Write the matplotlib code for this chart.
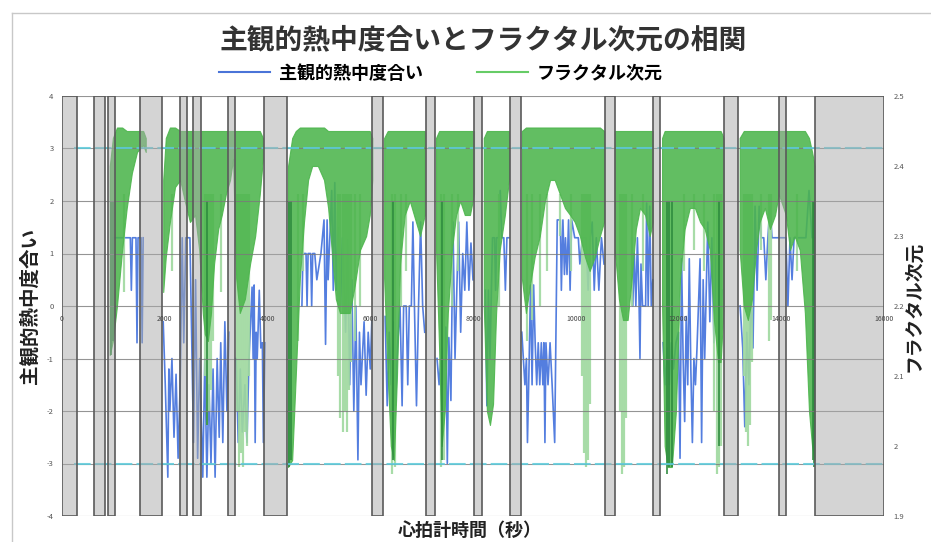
import numpy as np
import matplotlib
matplotlib.use('Agg')
import matplotlib.pyplot as plt
from matplotlib.lines import Line2D

plt.rcParams['font.family'] = ['Noto Sans CJK JP', 'DejaVu Sans']

title = '主観的熱中度合いとフラクタル次元の相関'
label_blue = '主観的熱中度合い'
label_green = 'フラクタル次元'
xlabel = '心拍計時間（秒）'

x_ticks = [0, 2000, 4000, 6000, 8000, 10000, 12000, 14000, 16000]
left_ticks = [-4, -3, -2, -1, 0, 1, 2, 3, 4]
right_ticks = [1.9, 2.0, 2.1, 2.2, 2.3, 2.4, 2.5]
right_labels = ['1.9', '2', '2.1', '2.2', '2.3', '2.4', '2.5']
thresholds = [3, -3]

# excluded (gray) intervals, seconds
band_start = [0, 620, 900, 1520, 2300, 2550, 3230, 3930, 6030, 7080, 8020, 8720, 10570, 11500, 12890, 13960, 14660]
band_end = [290, 840, 1030, 1950, 2430, 2700, 3370, 4380, 6250, 7260, 8170, 8930, 10760, 11640, 13160, 14090, 16000]

# fractal dimension envelope (upper / lower) per recorded segment
green_t = [
    [930, 990, 1070, 1170, 1260, 1360, 1460, 1580, 1630],
    [1970, 2020, 2100, 2200, 2300, 2390, 2490, 2590, 2670, 2740, 2780, 2840, 2900, 2960, 3040, 3110, 3190, 3270, 3330, 3390, 3460, 3560, 3660, 3760, 3850, 3910],
    [4400, 4480, 4550, 4630, 4710, 4790, 4870, 4980, 5100, 5180, 5250, 5330, 5410, 5510, 5600, 5700, 5800, 5920, 5990, 6040],
    [6270, 6340, 6400, 6460, 6520, 6580, 6670, 6770, 6890, 6970, 7060],
    [7280, 7340, 7390, 7450, 7510, 7590, 7670, 7750, 7840, 7940, 8020],
    [8210, 8270, 8330, 8390, 8450, 8520, 8620, 8700],
    [8950, 9030, 9110, 9200, 9300, 9400, 9500, 9590, 9690, 9790, 9890, 9980, 10080, 10180, 10270, 10370, 10470, 10550],
    [10760, 10840, 10920, 11010, 11090, 11170, 11250, 11350, 11440, 11500],
    [11680, 11730, 11790, 11870, 11950, 12030, 12120, 12220, 12320, 12420, 12510, 12610, 12690, 12770, 12820, 12880],
    [13190, 13270, 13350, 13430, 13510, 13580, 13680, 13780, 13880, 13950, 14090, 14170, 14260, 14360, 14460, 14540, 14600, 14650],
]
green_hi = [
    [2.40, 2.44, 2.455, 2.455, 2.45, 2.45, 2.45, 2.45, 2.44],
    [2.38, 2.44, 2.455, 2.455, 2.45, 2.45, 2.45, 2.45, 2.45, 2.45, 2.45, 2.45, 2.45, 2.45, 2.45, 2.45, 2.45, 2.45, 2.45, 2.45, 2.45, 2.45, 2.45, 2.45, 2.45, 2.44],
    [2.40, 2.44, 2.45, 2.455, 2.455, 2.455, 2.455, 2.455, 2.455, 2.45, 2.45, 2.45, 2.45, 2.45, 2.45, 2.45, 2.45, 2.45, 2.45, 2.44],
    [2.44, 2.45, 2.45, 2.45, 2.45, 2.45, 2.45, 2.45, 2.45, 2.45, 2.45],
    [2.44, 2.45, 2.45, 2.45, 2.45, 2.45, 2.45, 2.45, 2.45, 2.45, 2.45],
    [2.44, 2.45, 2.45, 2.45, 2.45, 2.45, 2.45, 2.45],
    [2.45, 2.455, 2.455, 2.455, 2.455, 2.455, 2.455, 2.455, 2.455, 2.455, 2.455, 2.455, 2.455, 2.455, 2.455, 2.455, 2.455, 2.45],
    [2.45, 2.45, 2.45, 2.45, 2.45, 2.45, 2.45, 2.45, 2.45, 2.45],
    [2.44, 2.45, 2.45, 2.45, 2.45, 2.45, 2.45, 2.45, 2.45, 2.45, 2.45, 2.45, 2.45, 2.45, 2.45, 2.44],
    [2.44, 2.45, 2.45, 2.45, 2.45, 2.45, 2.45, 2.45, 2.45, 2.45, 2.45, 2.45, 2.45, 2.45, 2.45, 2.44, 2.42, 2.40],
]
green_lo = [
    [2.13, 2.15, 2.20, 2.28, 2.34, 2.39, 2.42, 2.43, 2.42],
    [2.22, 2.27, 2.32, 2.37, 2.38, 2.35, 2.32, 2.33, 2.28, 2.19, 2.16, 2.15, 2.19, 2.26, 2.31, 2.33, 2.36, 2.38, 2.41, 2.24, 2.19, 2.21, 2.26, 2.30, 2.36, 2.41],
    [1.97, 1.98, 2.10, 2.24, 2.32, 2.38, 2.40, 2.40, 2.38, 2.34, 2.28, 2.21, 2.19, 2.19, 2.19, 2.23, 2.28, 2.30, 2.33, 2.38],
    [2.24, 2.10, 2.00, 1.98, 2.10, 2.26, 2.33, 2.35, 2.32, 2.30, 2.33],
    [2.28, 2.14, 2.00, 2.05, 2.19, 2.28, 2.33, 2.35, 2.33, 2.33, 2.36],
    [2.20, 2.05, 2.03, 2.06, 2.19, 2.28, 2.33, 2.38],
    [2.24, 2.19, 2.23, 2.27, 2.30, 2.35, 2.38, 2.38, 2.36, 2.34, 2.33, 2.32, 2.30, 2.27, 2.25, 2.27, 2.30, 2.32],
    [2.28, 2.21, 2.18, 2.18, 2.24, 2.31, 2.34, 2.33, 2.30, 2.32],
    [2.20, 2.00, 1.97, 1.97, 2.05, 2.24, 2.31, 2.34, 2.34, 2.32, 2.31, 2.28, 2.18, 2.12, 2.12, 2.20],
    [2.28, 2.20, 2.18, 2.21, 2.28, 2.32, 2.34, 2.31, 2.33, 2.36, 2.33, 2.28, 2.30, 2.28, 2.19, 2.05, 2.00, 1.98],
]

# light-green dips of the fractal dimension
light_t = [2780, 2820, 2860, 2900, 2940, 3400, 3440, 3480, 3520, 3560, 3600, 3640,
           5380, 5420, 5460, 5500, 5540, 5580, 5620, 6420, 6480, 7380, 7430, 9060, 9150,
           10120, 10160, 10200, 10240, 10280, 10860, 10900, 10940, 10980,
           12700, 12740, 12780, 12820, 13270, 13310, 13350, 13390, 13430, 13760, 13800,
           4600, 4700, 5700, 5800, 6600, 6700, 7600, 7700, 8500, 9300, 9450, 9700, 9900,
           11100, 11300, 12100, 12300, 12500, 13600, 14300, 2150, 3100, 1200]
light_lo = [2.10, 2.03, 2.05, 2.08, 2.15, 2.05, 1.97, 1.99, 1.97, 2.02, 2.00, 2.10,
            2.10, 2.04, 2.02, 2.05, 2.02, 2.08, 2.12, 1.96, 1.97, 1.97, 1.98, 2.15, 2.18,
            2.10, 1.99, 1.97, 1.98, 2.06, 2.05, 1.96, 1.97, 2.04,
            2.05, 1.96, 1.97, 2.00, 2.10, 2.02, 2.00, 2.03, 2.12, 2.15, 2.18,
            2.15, 2.25, 2.15, 2.20, 2.20, 2.25, 2.20, 2.25, 2.20, 2.20, 2.25, 2.30, 2.25,
            2.20, 2.25, 2.25, 2.28, 2.25, 2.28, 2.25, 2.25, 2.22, 2.22]
# dark-green deep dips
dark_t = [960, 990, 2820, 4410, 4450, 6440, 7400, 11770, 11820, 11870, 12790, 14620, 14640]
dark_lo = [2.13, 2.15, 2.03, 1.97, 1.98, 1.98, 1.98, 1.96, 1.97, 1.97, 2.00, 1.98, 1.97]

# subjective immersion (left axis)
blue_t = [
    [970, 990, 1170, 1330, 1350, 1370, 1440, 1460, 1480, 1540, 1560, 1580],
    [1970, 2010, 2060, 2080, 2100, 2140, 2180, 2220, 2260, 2300, 2340, 2370, 2410, 2490, 2560, 2600, 2640, 2680, 2740, 2780, 2820, 2860, 2900, 2940, 2980, 3020, 3060, 3090, 3130, 3170, 3210, 3250],
    [3390, 3430, 3470, 3510, 3560, 3600, 3640, 3700, 3720, 3740, 3760, 3780, 3800, 3840, 3870, 3900, 3920, 3950],
    [4670, 4690, 4750, 4770, 4790, 4840, 4860, 4880, 4920, 4960, 5040, 5100, 5130, 5160, 5180, 5250, 5280, 5310, 5340, 5380, 5420, 5460, 5520, 5560, 5600, 5640, 5680, 5720, 5760, 5790, 5820, 5880, 5920, 5960, 6000, 6030],
    [6290, 6330, 6370, 6410, 6450, 6490, 6530, 6580, 6620, 6650, 6700, 6730, 6760, 6800, 6830, 6860, 6900, 6940, 6980, 7020, 7060],
    [7300, 7340, 7390, 7430, 7470, 7500, 7530, 7570, 7610, 7650, 7690, 7720, 7760, 7800, 7840, 7880, 7920, 7960, 8000],
    [8240, 8270, 8300, 8330, 8380, 8420, 8440, 8460, 8500, 8530, 8560, 8600, 8630, 8660, 8700],
    [8950, 8980, 9010, 9040, 9060, 9090, 9120, 9150, 9180, 9210, 9240, 9270, 9300, 9330, 9360, 9380, 9400, 9420, 9460, 9500, 9540, 9590, 9640, 9700, 9720, 9750, 9780, 9800, 9830, 9860, 9890, 9920, 9980, 10050, 10080, 10130, 10200, 10240, 10280, 10320, 10360, 10400, 10450, 10500, 10550],
    [11090, 11110, 11140, 11170, 11200, 11230, 11250, 11270, 11300, 11360, 11380, 11410, 11440, 11470, 11500],
    [11700, 11740, 11780, 11820, 11860, 11900, 11950, 12000, 12030, 12060, 12090, 12120, 12150, 12180, 12210, 12240, 12270, 12300, 12330, 12360, 12420, 12450, 12480, 12510, 12570, 12610, 12650, 12690, 12730, 12770, 12810, 12840],
    [13200, 13250, 13290, 13330, 13370, 13410, 13450, 13490, 13530, 13570, 13610, 13660, 13700, 13740, 13780, 13820, 13900, 13950, 14090, 14130, 14170, 14210, 14250, 14300, 14360, 14420, 14480, 14540, 14600, 14650],
]
blue_v = [
    [0.0, 1.3, 1.3, 1.3, 0.3, 1.3, 1.3, -0.7, 1.3, 1.3, -0.7, 1.3],
    [-0.3, -1.5, -3.26, -1.2, -2.0, -1.0, -2.5, -1.3, -2.9, -1.5, 1.3, -0.7, 1.3, 1.3, -2.6, 0.5, -2.9, -1.0, -3.26, -1.0, -3.26, -1.5, -3.0, -1.2, -3.26, -1.0, -2.5, -0.7, -2.6, -0.3, -2.0, -0.5],
    [-1.0, -2.6, -1.2, -2.4, -1.5, -2.6, -1.0, 0.36, -1.0, 0.4, -2.6, -0.5, -1.0, 0.3, -0.8, -0.7, -2.6, -0.7],
    [0.0, 1.0, 1.0, 0.0, 1.0, 1.0, 0.0, 1.0, 1.0, 0.5, 1.0, 1.64, -0.73, 1.64, 0.5, 2.2, 0.3, 2.35, 0.3, 1.5, 0.0, 1.3, -0.5, 1.26, -1.5, 0.5, -2.0, 0.0, -2.93, -0.5, -1.5, -0.3, -1.7, -0.5, -1.2, -0.3],
    [-0.2, -1.9, -0.5, -1.5, -0.3, -1.9, -0.8, 0.0, -1.9, 0.0, 0.0, -1.5, 0.0, 0.0, 1.6, 0.0, -1.9, 0.0, 1.6, 0.0, -0.5],
    [-1.0, -1.5, -0.8, -1.5, -0.4, -3.0, -0.6, -1.8, 1.6, -1.0, 0.5, 1.6, -0.5, 1.0, 0.3, 1.6, 0.3, 1.2, 0.5],
    [0.3, -1.9, 0.3, -1.0, 1.3, 1.3, 0.3, 1.3, 1.3, 2.2, 1.3, 1.3, 0.3, 1.3, 1.3],
    [-0.5, -1.0, -1.5, -1.0, -2.6, -1.2, 0.4, -1.5, 0.4, -0.7, -1.5, -0.7, -1.5, -0.7, -1.5, -0.7, -2.6, -0.7, -1.5, -0.7, -1.5, -2.6, 1.64, 1.64, 0.3, 1.64, 0.6, 1.3, 0.6, 1.64, 0.3, 1.64, 1.3, 1.3, 0.8, 1.3, 1.3, 0.3, 1.3, 1.6, 0.3, 1.3, 0.3, 1.3, 0.8],
    [1.3, 0.0, 1.0, 0.0, 1.3, 0.2, -1.0, 0.8, 0.0, 0.0, 1.96, 0.0, 1.9, 0.0, 0.5],
    [-0.7, -1.5, -0.8, -1.5, -0.7, -1.2, -0.7, -0.5, -2.9, 0.9, -1.0, -2.2, -0.2, -1.5, 0.9, -1.2, -2.6, -1.0, -1.5, -0.8, 0.9, -2.6, 0.5, -1.0, 1.6, -0.3, 1.3, -0.7, 1.0, 0.0, -0.7, 0.3],
    [0.0, -0.8, -2.3, -0.5, -1.5, 0.3, -0.8, 1.9, 0.3, 1.9, 1.3, 1.3, 0.5, 1.3, 1.9, 1.3, 1.3, 1.3, 1.3, 0.0, 1.3, 0.5, 1.3, 1.3, 1.3, 1.3, 1.3, 2.2, 1.3, 1.3],
]

for a, b in zip(blue_t, blue_v):
    assert len(a) == len(b), (len(a), len(b), a[0])
for a, b, c in zip(green_t, green_hi, green_lo):
    assert len(a) == len(b) == len(c), (len(a), len(b), len(c), a[0])
assert len(light_t) == len(light_lo)

BLUE = '#4170dc'
GREEN = '#4cb54c'
LIGHT_GREEN = '#9fd99f'
DARK_GREEN = '#2e8b3e'
GRAY_TXT = '#555555'

W, H = 931, 542
fig = plt.figure(figsize=(W / 100, H / 100), dpi=100)
ax = fig.add_axes([62 / W, 26 / H, 822 / W, 420 / H])
ax2 = ax.twinx()

# left axis: subjective immersion
ax.set_xlim(0, 16000)
ax.set_ylim(-4, 4)
for tt, vv in zip(blue_t, blue_v):
    ax.plot(tt, vv, color=BLUE, lw=1.2, alpha=0.9, zorder=2)

ax.set_yticks(left_ticks)
ax.set_yticklabels([str(v) for v in left_ticks])
ax.tick_params(axis='y', length=0, pad=6, labelsize=5.5, labelcolor=GRAY_TXT)
ax.set_xticks([])
for s in ax.spines.values():
    s.set_visible(False)
ax.set_ylabel(label_blue, fontsize=14, fontweight='bold', color='#222222')
ax.yaxis.set_label_coords(-0.027, 0.5)

# right axis: fractal dimension
ax2.set_ylim(1.9, 2.5)
ax2.set_xlim(0, 16000)
for tt, lo in zip(light_t, light_lo):
    ax2.vlines(tt, lo, 2.36, color=LIGHT_GREEN, lw=1.6, alpha=0.9, zorder=2)
for tt, hi, lo in zip(green_t, green_hi, green_lo):
    ax2.fill_between(tt, lo, hi, color=GREEN, alpha=0.88, lw=0.8, zorder=3)
ax2.vlines(dark_t, dark_lo, 2.35, color=DARK_GREEN, lw=1.3, alpha=0.9, zorder=3)

# grid lines of the left axis
ax2.hlines(left_ticks, 0, 1, transform=ax.get_yaxis_transform(), colors='#7a7a7a', lw=0.8, alpha=0.8, zorder=3.5)
# threshold lines at +-3 (cyan)
ax2.hlines(thresholds, 0.015, 1, transform=ax.get_yaxis_transform(), colors='#5ccbdb',
           lw=1.5, linestyles=[(0, (8, 2))], alpha=0.85, zorder=4)

# excluded intervals (semi-transparent, over the data)
for s0, s1 in zip(band_start, band_end):
    ax2.axvspan(s0, s1, facecolor=(0.67, 0.67, 0.67, 0.5), edgecolor='#5a5a5a', lw=1.2, zorder=5)

# x tick labels along the 0 line
for t in x_ticks:
    ax2.text(t, -0.18, str(t), transform=ax.transData, ha='center', va='top', fontsize=5,
             color='#444444', zorder=7)

ax2.set_yticks(right_ticks)
ax2.set_yticklabels(right_labels)
ax2.tick_params(axis='y', length=0, pad=7, labelsize=5.5, labelcolor=GRAY_TXT)
for s in ax2.spines.values():
    s.set_visible(False)
ax2.set_ylabel(label_green, fontsize=13.5, fontweight='bold', color='#222222', rotation=90)
ax2.yaxis.set_label_coords(1.0245, 0.5)

# titles and legend
fig.text(483 / W, 1 - 40 / H, title, ha='center', va='center', fontsize=20, fontweight='bold', color='#333333')
handles = [Line2D([], [], color='#4a74d8', lw=1.5), Line2D([], [], color='#66cc66', lw=1.5)]
fig.legend(handles, [label_blue, label_green], loc='center', bbox_to_anchor=(441 / W, 1 - 73 / H),
           ncol=2, frameon=False, handlelength=2.8, columnspacing=3.0, handletextpad=0.5,
           prop={'size': 13, 'weight': 'bold'})
fig.text(470 / W, 1 - 530 / H, xlabel, ha='center', va='center', fontsize=13, fontweight='bold', color='#222222')

# outer frame of the chart area
fig.add_artist(Line2D([12 / W, 12 / W], [0, 1 - 13 / H], transform=fig.transFigure, color='#c8c8c8', lw=1))
fig.add_artist(Line2D([12 / W, 1], [1 - 13 / H, 1 - 13 / H], transform=fig.transFigure, color='#c8c8c8', lw=1))

fig.savefig('out.png', dpi=100, facecolor='white')
